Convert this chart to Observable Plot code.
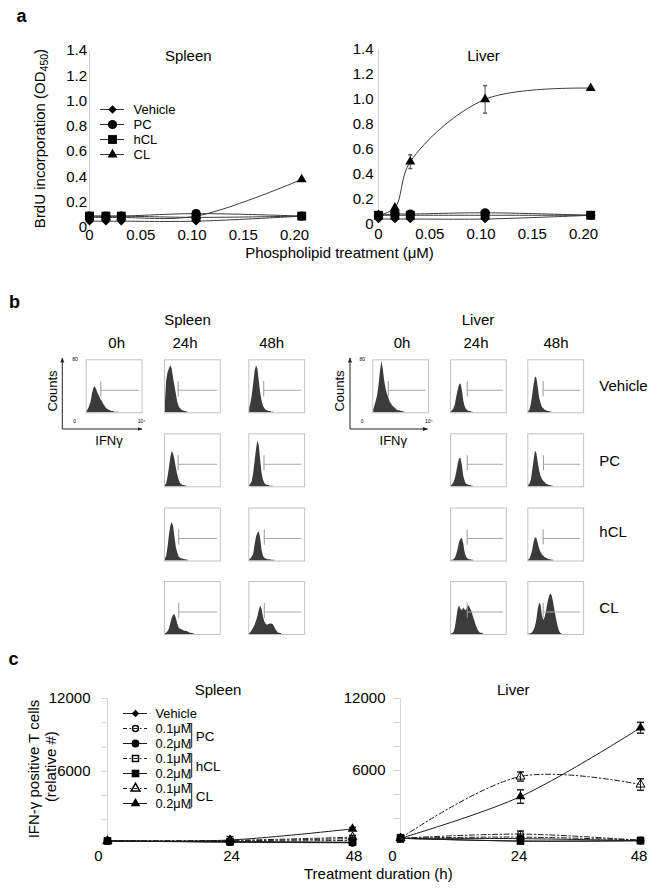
<!DOCTYPE html>
<html>
<head>
<meta charset="utf-8">
<script src="https://cdn.jsdelivr.net/npm/d3@7"></script>
<script src="https://cdn.jsdelivr.net/npm/@observablehq/plot@0.6"></script>
<style>
  html, body { margin: 0; padding: 0; background: #fff; }
  #root { position: relative; width: 659px; height: 892px; overflow: hidden; background: #fff; }
</style>
</head>
<body>
<div id="root"></div>
<script>
// ================= DATA =================
// ---- Panel a: BrdU incorporation (OD450) vs phospholipid dose (µM)
const doses = [0, 0.016, 0.031, 0.104, 0.207];
const brduTicksY = [0, 0.2, 0.4, 0.6, 0.8, 1.0, 1.2, 1.4];
const brduTicksX = [0, 0.05, 0.10, 0.15, 0.20];
const treatmentsA = ["Vehicle", "PC", "hCL", "CL"];

const brduSpleenVehicle = [0.05, 0.05, 0.05, 0.05, 0.09];
const brduSpleenPC      = [0.09, 0.09, 0.09, 0.11, 0.09];
const brduSpleenHCL     = [0.09, 0.09, 0.09, 0.08, 0.09];
const brduSpleenCL      = [0.08, 0.08, 0.08, 0.09, 0.38];

const brduLiverVehicle = [0.04, 0.04, 0.04, 0.04, 0.07];
const brduLiverPC      = [0.07, 0.08, 0.08, 0.09, 0.07];
const brduLiverHCL     = [0.07, 0.07, 0.07, 0.07, 0.07];
const brduLiverCL      = [0.07, 0.13, 0.50, 1.00, 1.09];
const brduLiverCLerr   = [0, 0, 0.055, 0.11, 0];

// ---- Panel b: IFN-gamma flow histograms (counts per 0.1-decade bin, 10^0..10^4)
const histBin = 0.1;
const hSpleen0h    = [2,5,10,16,28,37,39,35,29,25,20,17,13,10,7,5,4,3,2,2,1,1,1,1];
const hSpleen24Veh = [8,48,60,66,71,66,52,40,28,16,9,6,4,3,2,2,1,1];
const hSpleen48Veh = [6,14,26,44,62,71,66,48,30,18,10,6,4,3,2,2,1,1,1];
const hSpleen24PC  = [2,4,14,28,44,53,50,40,28,18,10,5,3,2,2,1,1];
const hSpleen48PC  = [2,4,8,20,38,56,69,62,40,20,10,5,3,2,2,1,1,1];
const hSpleen24hCL = [3,6,20,38,52,58,52,36,20,12,6,4,3,3,2,2,1,1];
const hSpleen48hCL = [2,3,6,10,24,36,42,44,34,16,7,4,3,2,2,2,1,1,1];
const hSpleen24CL  = [1,2,4,8,16,24,29,30,24,16,10,8,7,6,5,5,4,3,2,2,1,1];
const hSpleen48CL  = [1,3,6,10,14,20,26,36,43,38,26,19,15,14,15,16,16,15,11,7,4,2,2,1];
const hLiver0h     = [4,10,18,26,42,62,78,66,48,36,28,22,16,13,10,8,6,4,3,3,2,2,1,1];
const hLiver24Veh  = [1,3,6,12,24,34,42,44,34,18,9,5,3,2,2,1,1];
const hLiver48Veh  = [2,4,12,26,42,54,52,38,22,14,8,6,4,3,2,2,1,1];
const hLiver24PC   = [1,3,6,12,22,34,42,43,32,16,8,4,3,2,2,1,1];
const hLiver48PC   = [2,4,10,24,40,54,50,36,24,16,11,8,6,4,3,2,2,1,1];
const hLiver24hCL  = [1,1,2,4,10,18,28,33,34,26,12,6,3,2,2,1,1];
const hLiver48hCL  = [1,3,8,16,28,35,34,26,18,13,9,7,5,4,3,2,2,1,1];
const hLiver24CL   = [1,1,3,10,24,38,43,38,36,40,37,36,42,43,38,34,26,20,13,8,4,2,2,1];
const hLiver48CL   = [0,1,1,3,6,12,22,38,47,44,28,21,26,36,48,57,61,58,48,36,24,14,6,2,1];
// gate start (log10 units) per histogram
const gateSpleen0h = 1.05, gateSpleen24 = [0.98, 0.98, 1.02, 1.02], gateSpleen48 = [1.07, 1.09, 1.11, 1.11];
const gateLiver0h = 1.11, gateLiver24 = [1.2, 1.2, 1.2, 1.2], gateLiver48 = [1.1, 1.12, 1.1, 1.1];
const gateLow = 24, gateHigh = 47, gateLevel = 34, gateEnd = 3.8;
const histRows = ["Vehicle", "PC", "hCL", "CL"];

// ---- Panel c: IFN-gamma positive T cells (relative #) vs treatment duration (h)
const hours = [0, 24, 48];
const ifnMinorTicks = [0, 2000, 4000, 6000, 8000, 10000, 12000];
const ifnLabelTicks = [6000, 12000];
const seriesC = ["Vehicle", "PC 0.1", "PC 0.2", "hCL 0.1", "hCL 0.2", "CL 0.1", "CL 0.2"];
const legendC = ["Vehicle", "0.1\u03bcM", "0.2\u03bcM", "0.1\u03bcM", "0.2\u03bcM", "0.1\u03bcM", "0.2\u03bcM"];
const groupsC = [["PC", "PC 0.1", "PC 0.2"], ["hCL", "hCL 0.1", "hCL 0.2"], ["CL", "CL 0.1", "CL 0.2"]];

const ifnSpleenVehicle = [250, 180, 120];
const ifnSpleenPC01    = [250, 250, 450];
const ifnSpleenPC02    = [250, 150, 100];
const ifnSpleenHCL01   = [250, 220, 300];
const ifnSpleenHCL02   = [250, 180, 150];
const ifnSpleenCL01    = [250, 300, 560];
const ifnSpleenCL02    = [250, 330, 1250];
const ifnSpleenErrCL01 = [0, 0, 150];
const ifnSpleenErrCL02 = [0, 280, 120];

const ifnLiverVehicle = [350, 120, 150];
const ifnLiverPC01    = [350, 700, 180];
const ifnLiverPC02    = [350, 320, 150];
const ifnLiverHCL01   = [350, 450, 200];
const ifnLiverHCL02   = [350, 120, 150];
const ifnLiverCL01    = [350, 5500, 4830];
const ifnLiverCL02    = [350, 3830, 9560];
const ifnLiverErrPC01 = [0, 260, 0];
const ifnLiverErrCL01 = [300, 380, 480];
const ifnLiverErrCL02 = [300, 560, 450];

// ================= STYLE / LAYOUT =================
const W = 659, H = 892;
const FONT = '"Liberation Sans", Arial, Helvetica, sans-serif';
const root = document.getElementById("root");

const capSymbol = {draw(ctx, size) { const w = Math.sqrt(size / Math.PI); ctx.moveTo(-w, 0); ctx.lineTo(w, 0); }};
const SYM_A = {Vehicle: "diamond2", PC: "circle", hCL: "square", CL: "triangle"};
const R_A = {Vehicle: 3.9, PC: 4.6, hCL: 5.0, CL: 3.7};
const STYLE_C = {
  "Vehicle": {symbol: "diamond2", r: 3.4, filled: true,  dash: false},
  "PC 0.1":  {symbol: "circle",   r: 3.0, filled: false, dash: true},
  "PC 0.2":  {symbol: "circle",   r: 3.9, filled: true,  dash: false},
  "hCL 0.1": {symbol: "square",   r: 3.4, filled: false, dash: true},
  "hCL 0.2": {symbol: "square",   r: 4.3, filled: true,  dash: false},
  "CL 0.1":  {symbol: "triangle", r: 3.3, filled: false, dash: true},
  "CL 0.2":  {symbol: "triangle", r: 3.6, filled: true,  dash: false}
};
const DASHDOT = "5,2.5,1.5,2.5";

function layer(frame, options) {
  const svg = Plot.plot({
    width: W, height: H,
    marginLeft: frame.left, marginRight: W - frame.right,
    marginTop: frame.top, marginBottom: H - frame.bottom,
    ...options
  });
  Object.assign(svg.style, {position: "absolute", left: "0px", top: "0px", background: "transparent",
    maxWidth: "none", overflow: "visible", fontFamily: FONT, fontSize: "15px", color: "#000"});
  root.appendChild(svg);
  return svg;
}

const fmt1 = d => d === 0 ? "0" : d.toFixed(1);
const fmt2 = d => d === 0 ? "0" : d.toFixed(2);

// ================= PANEL a =================
function brduPanel(frame, values, clErr, yPad, xPad) {
  const data = treatmentsA.flatMap(s => doses.map((x, i) => ({series: s, x, y: values[s][i]})));
  const err = clErr ? doses.map((x, i) => ({x, y: values.CL[i], e: clErr[i]})).filter(d => d.e > 0) : [];
  layer(frame, {
    x: {domain: [0, 0.21]},
    y: {domain: [0, 1.4]},
    marks: [
      Plot.ruleX([0], {stroke: "#cfcfcf"}),
      Plot.axisY({ticks: brduTicksY, tickSize: 0, tickPadding: yPad, tickFormat: fmt1, fontSize: 15, label: null}),
      Plot.axisX({ticks: brduTicksX, tickSize: 0, tickPadding: xPad, tickFormat: fmt2, fontSize: 15, label: null}),
      Plot.line(data, {x: "x", y: "y", z: "series", curve: "catmull-rom", stroke: "#3a3a3a", strokeWidth: 1}),
      Plot.ruleX(err, {x: "x", y1: d => d.y - d.e, y2: d => d.y + d.e, stroke: "#555"}),
      Plot.dot(err, {x: "x", y: d => d.y + d.e, symbol: capSymbol, r: 2, stroke: "#555", fill: "none"}),
      Plot.dot(err, {x: "x", y: d => d.y - d.e, symbol: capSymbol, r: 2, stroke: "#555", fill: "none"}),
      ...treatmentsA.map(s => Plot.dot(data.filter(d => d.series === s),
        {x: "x", y: "y", symbol: SYM_A[s], r: R_A[s], fill: "#000", stroke: "none"}))
    ]
  });
}
brduPanel({left: 89, right: 304.25, top: 50, bottom: 227},
  {Vehicle: brduSpleenVehicle, PC: brduSpleenPC, hCL: brduSpleenHCL, CL: brduSpleenCL}, null, 2.5, 1.5);
brduPanel({left: 378, right: 593.25, top: 49, bottom: 223.5},
  {Vehicle: brduLiverVehicle, PC: brduLiverPC, hCL: brduLiverHCL, CL: brduLiverCL}, brduLiverCLerr, 5, 4);

// legend a
layer({left: 100, right: 124, top: 108.3, bottom: 155.3}, {
  y: {type: "point", domain: treatmentsA, padding: 0, axis: null},
  marks: [
    Plot.ruleY(treatmentsA, {y: d => d, stroke: "#333"}),
    ...treatmentsA.map(s => Plot.dot([s], {y: d => d, symbol: SYM_A[s], r: R_A[s], fill: "#000", stroke: "none"})),
    Plot.text(treatmentsA, {y: d => d, text: d => d, frameAnchor: "right", dx: 9, textAnchor: "start", fontSize: 13, fill: "#000"})
  ]
});

// ================= PANEL b =================
const spleenCols = [85.7, 164, 248.3], liverCols = [372.3, 450, 527.3];
const rowTops = [359.3, 433.3, 507.5, 581];
const boxW = 55.8, boxH = 53;
function histogram(left, top, counts, gate) {
  const bins = counts.map((c, i) => ({x: i * histBin + histBin / 2, c}));
  layer({left, right: left + boxW, top, bottom: top + boxH}, {
    x: {domain: [0, 4], axis: null},
    y: {domain: [0, 80], axis: null},
    marks: [
      Plot.areaY(bins, {x: "x", y: "c", curve: "linear", fill: "#3b3b3b"}),
      Plot.ruleX([gate], {y1: gateLow, y2: gateHigh, stroke: "#9a9a9a"}),
      Plot.ruleY([gateLevel], {x1: gate, x2: gateEnd, stroke: "#a8a8a8"}),
      Plot.frame({stroke: "#c2c2c2"})
    ]
  });
}
histogram(spleenCols[0], rowTops[0], hSpleen0h, gateSpleen0h);
histogram(liverCols[0], rowTops[0], hLiver0h, gateLiver0h);
[[hSpleen24Veh, hSpleen24PC, hSpleen24hCL, hSpleen24CL], [hSpleen48Veh, hSpleen48PC, hSpleen48hCL, hSpleen48CL]]
  .forEach((col, c) => col.forEach((h, r) => histogram(spleenCols[c + 1], rowTops[r], h, (c ? gateSpleen48 : gateSpleen24)[r])));
[[hLiver24Veh, hLiver24PC, hLiver24hCL, hLiver24CL], [hLiver48Veh, hLiver48PC, hLiver48hCL, hLiver48CL]]
  .forEach((col, c) => col.forEach((h, r) => histogram(liverCols[c + 1], rowTops[r], h, (c ? gateLiver48 : gateLiver24)[r])));

// ================= PANEL c =================
function ifnPanel(frame, values, errs, yPad, xPad, dx0, dxRest) {
  const data = seriesC.flatMap(s => hours.map((x, i) => ({series: s, x, y: values[s][i]})));
  const err = Object.entries(errs).flatMap(([s, e]) => hours.map((x, i) => ({x, y: values[s][i], e: e[i]}))).filter(d => d.e > 0);
  layer(frame, {
    x: {domain: [0, 48]},
    y: {domain: [0, 12000]},
    marks: [
      Plot.ruleX([0], {stroke: "#d6d6d6"}),
      Plot.axisY({ticks: ifnMinorTicks, tickSize: 6, tickFormat: () => "", stroke: "#d0d0d0", label: null}),
      Plot.axisY({ticks: ifnLabelTicks, tickSize: 0, tickPadding: yPad, tickFormat: d => String(d), fontSize: 15, label: null}),
      Plot.axisX({ticks: [0], tickSize: 0, tickPadding: xPad, dx: dx0, fontSize: 15, label: null}),
      Plot.axisX({ticks: [24, 48], tickSize: 0, tickPadding: xPad, dx: dxRest, fontSize: 15, label: null}),
      ...seriesC.map(s => Plot.line(data.filter(d => d.series === s), {
        x: "x", y: "y", curve: "catmull-rom", stroke: "#1a1a1a", strokeWidth: 1,
        ...(STYLE_C[s].dash ? {strokeDasharray: DASHDOT} : {})
      })),
      Plot.ruleX(err, {x: "x", y1: d => d.y - d.e, y2: d => d.y + d.e, stroke: "#222"}),
      Plot.dot(err, {x: "x", y: d => d.y + d.e, symbol: capSymbol, r: 3.5, stroke: "#222", fill: "none"}),
      Plot.dot(err, {x: "x", y: d => d.y - d.e, symbol: capSymbol, r: 3.5, stroke: "#222", fill: "none"}),
      ...seriesC.map(s => Plot.dot(data.filter(d => d.series === s), {
        x: "x", y: "y", symbol: STYLE_C[s].symbol, r: STYLE_C[s].r,
        fill: STYLE_C[s].filled ? "#000" : "none", stroke: STYLE_C[s].filled ? "none" : "#000", strokeWidth: 1
      }))
    ]
  });
}
ifnPanel({left: 107, right: 352, top: 698, bottom: 843.5}, {
  "Vehicle": ifnSpleenVehicle, "PC 0.1": ifnSpleenPC01, "PC 0.2": ifnSpleenPC02,
  "hCL 0.1": ifnSpleenHCL01, "hCL 0.2": ifnSpleenHCL02, "CL 0.1": ifnSpleenCL01, "CL 0.2": ifnSpleenCL02
}, {"CL 0.1": ifnSpleenErrCL01, "CL 0.2": ifnSpleenErrCL02}, 17, 6, -9, 1.5);
ifnPanel({left: 400, right: 640, top: 698, bottom: 842}, {
  "Vehicle": ifnLiverVehicle, "PC 0.1": ifnLiverPC01, "PC 0.2": ifnLiverPC02,
  "hCL 0.1": ifnLiverHCL01, "hCL 0.2": ifnLiverHCL02, "CL 0.1": ifnLiverCL01, "CL 0.2": ifnLiverCL02
}, {"PC 0.1": ifnLiverErrPC01, "CL 0.1": ifnLiverErrCL01, "CL 0.2": ifnLiverErrCL02}, 15, 7.5, -8, -1.5);

// legend c
const legendFrameC = {top: 710.7, bottom: 805};
const legendLabel = Object.fromEntries(seriesC.map((s, i) => [s, legendC[i]]));
layer({left: 123, right: 147, ...legendFrameC}, {
  y: {type: "point", domain: seriesC, padding: 0, axis: null},
  marks: [
    Plot.ruleY(seriesC.filter(s => !STYLE_C[s].dash), {y: d => d, stroke: "#1a1a1a"}),
    Plot.ruleY(seriesC.filter(s => STYLE_C[s].dash), {y: d => d, stroke: "#1a1a1a", strokeDasharray: "4,2.5,1.5,2.5"}),
    ...seriesC.map(s => Plot.dot([s], {y: d => d, symbol: STYLE_C[s].symbol, r: STYLE_C[s].r,
      fill: STYLE_C[s].filled ? "#000" : "none", stroke: STYLE_C[s].filled ? "none" : "#000"})),
    Plot.text(seriesC, {y: d => d, text: d => legendLabel[d], frameAnchor: "right", dx: 8, textAnchor: "start", fontSize: 12.8, fill: "#000"})
  ]
});
// legend c brackets: a "]" for each group, vertical bar at x = 1, caps to x = 0
layer({left: 187.2, right: 191.2, ...legendFrameC}, {
  x: {domain: [0, 1], axis: null},
  y: {type: "point", domain: seriesC, padding: 0, axis: null},
  marks: [
    Plot.ruleX(groupsC, {x: () => 1, y1: d => d[1], y2: d => d[2], insetTop: -5, insetBottom: -4.5, stroke: "#1a1a1a"}),
    Plot.ruleY(groupsC, {y: d => d[1], x1: () => 0, x2: () => 1, dy: -5, stroke: "#1a1a1a"}),
    Plot.ruleY(groupsC, {y: d => d[2], x1: () => 0, x2: () => 1, dy: 4.5, stroke: "#1a1a1a"}),
    Plot.text(groupsC, {y: d => d[1], x: () => 1, text: d => d[0], dy: 7.85, dx: 4, textAnchor: "start", fontSize: 13.5, fill: "#000"})
  ]
});

// ================= TEXT ANNOTATIONS =================
const ann = d3.create("svg").attr("width", W).attr("height", H)
  .style("position", "absolute").style("left", "0px").style("top", "0px")
  .style("font-family", FONT).style("overflow", "visible");
const defs = ann.append("defs");
defs.append("marker").attr("id", "arr").attr("viewBox", "0 0 10 10").attr("refX", 9).attr("refY", 5)
  .attr("markerWidth", 5).attr("markerHeight", 5).attr("orient", "auto")
  .append("path").attr("d", "M0,1L10,5L0,9z").attr("fill", "#222");
function label(x, y, text, {size = 15, anchor = "middle", weight = "normal", rotate = false} = {}) {
  const t = ann.append("text").attr("font-size", size).attr("text-anchor", anchor)
    .attr("font-weight", weight).attr("fill", "#000");
  if (rotate) t.attr("transform", `translate(${x},${y}) rotate(-90)`); else t.attr("x", x).attr("y", y);
  t.text(text);
  return t;
}
// panel letters
label(16.5, 22, "a", {size: 18, anchor: "start", weight: "bold"});
label(9, 308.3, "b", {size: 18, anchor: "start", weight: "bold"});
label(8.5, 665, "c", {size: 18, anchor: "start", weight: "bold"});
// panel a
label(188.3, 61, "Spleen");
label(483.5, 61, "Liver");
label(339.5, 257.5, "Phospholipid treatment (\u03bcM)");
const ylab = label(44.5, 138.5, "BrdU incorporation (OD", {rotate: true});
ylab.append("tspan").attr("font-size", 10.5).attr("dy", 3.5).text("450");
ylab.append("tspan").attr("dy", -3.5).text(")");
// panel b
label(187.5, 324.5, "Spleen");
label(478, 324.5, "Liver");
[["0h", 116.7], ["24h", 185], ["48h", 271.7], ["0h", 402], ["24h", 476], ["48h", 556]].forEach(([t, x]) => label(x, 348.3, t));
histRows.forEach((t, i) => label(599.3, [390.7, 466, 536.7, 612.7][i], t, {anchor: "start"}));
[[62.3, 56.6, 109, 72.3, 73.3, 137.7, 142], [350, 344, 393.3, 359.5, 360.7, 425, 427.5]].forEach(([ax, cx, ix, t80, t0, t10, tip]) => {
  ann.append("path").attr("d", `M${ax},429V358`).attr("stroke", "#222").attr("fill", "none").attr("marker-end", "url(#arr)");
  ann.append("path").attr("d", `M${ax},429H${tip}`).attr("stroke", "#222").attr("fill", "none").attr("marker-end", "url(#arr)");
  label(cx, 391, "Counts", {size: 13, rotate: true});
  label(ix, 445.3, "IFN\u03b3", {size: 13});
  label(t80, 361, "80", {size: 5, anchor: "start"});
  label(t0, 422.5, "0", {size: 5, anchor: "start"});
  label(t10, 422.5, "10\u2074", {size: 5, anchor: "start"});
});
// panel c
label(218, 694.5, "Spleen");
label(513.3, 694.5, "Liver");
label(39, 769, "IFN-\u03b3 positive T cells", {rotate: true});
label(55.5, 766.7, "(relative #)", {rotate: true});
label(378.3, 878.5, "Treatment duration (h)");

root.appendChild(ann.node());
</script>
</body>
</html>
